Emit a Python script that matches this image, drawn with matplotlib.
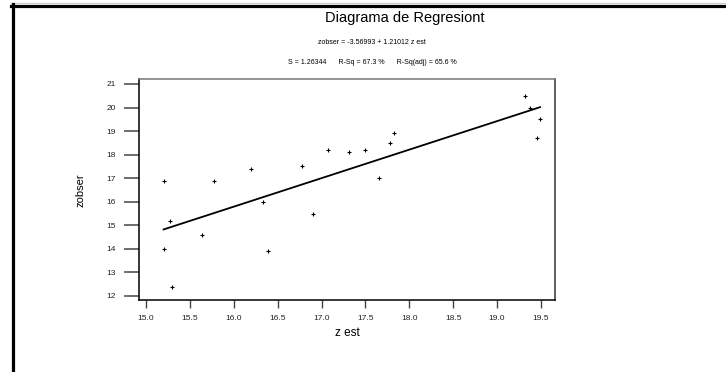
import matplotlib
matplotlib.use("Agg")
import matplotlib.pyplot as plt
from matplotlib.lines import Line2D
import numpy as np

plt.rcParams['font.family'] = ['Liberation Sans', 'DejaVu Sans']

# ── data ─────────────────────────────────────────────────────────────────────
z_est = [15.20, 15.27, 15.20, 15.30, 15.64, 15.77, 16.20, 16.33, 16.39, 16.78, 16.90,
         17.07, 17.31, 17.49, 17.65, 17.78, 17.82, 19.32, 19.38, 19.46, 19.49]
zobser = [16.9, 15.2, 14.0, 12.4, 14.6, 16.9, 17.4, 16.0, 13.9, 17.5, 15.5,
          18.2, 18.1, 18.2, 17.0, 18.5, 18.9, 20.5, 20.0, 18.7, 19.5]
intercept, slope = -3.56993, 1.21012
x_ticks = [15.0, 15.5, 16.0, 16.5, 17.0, 17.5, 18.0, 18.5, 19.0, 19.5]
y_ticks = [12, 13, 14, 15, 16, 17, 18, 19, 20, 21]

W, H = 726, 372
fig = plt.figure(figsize=(W / 100, H / 100), dpi=100)

# axes box in pixels: left 139, right 555, top 79, bottom 300
ax = fig.add_axes([139 / W, 1 - 300 / H, (555 - 139) / W, (300 - 79) / H])

xs = np.sort(np.array(z_est))
ax.plot(xs, intercept + slope * xs, color='black', lw=1.3)
ax.plot(z_est, zobser, linestyle='none', marker='+', ms=2.2, mew=0.8, color='black')

ax.set_xlim(14.92, 19.66)
ax.set_ylim(11.83, 21.21)
ax.set_xticks(x_ticks)
ax.set_xticklabels([f"{v:.1f}" for v in x_ticks])
ax.set_yticks(y_ticks)
ax.tick_params(axis='x', direction='out', length=5.5, width=1, colors='#444444',
               labelsize=6, labelcolor='#222222', pad=5)
ax.tick_params(axis='y', direction='out', length=10.5, width=1.2, colors='#555555',
               labelsize=6, labelcolor='#222222', pad=6)

ax.spines['left'].set_color('black')
ax.spines['bottom'].set_color('black')
ax.spines['top'].set_color('#777777')
ax.spines['right'].set_color('#333333')
for s in ax.spines.values():
    s.set_linewidth(1.1)

ax.set_xlabel('z est', fontsize=8.5, labelpad=4)

# garbled rotated y label
fig.text(80 / W, 1 - 190 / H, 'zobser', rotation=90, fontsize=8,
         ha='center', va='center', fontstretch='condensed')

# titles
fig.text(405 / W, 1 - 18 / H, 'Diagrama de Regresiont', fontsize=10.5,
         ha='center', va='center')
fig.text(372 / W, 1 - 43 / H, 'zobser = -3.56993 + 1.21012 z est', fontsize=5,
         ha='center', va='center')
fig.text(372 / W, 1 - 62 / H, 'S = 1.26344      R-Sq = 67.3 %      R-Sq(adj) = 65.6 %',
         fontsize=5, ha='center', va='center')

# outer frame lines
fig.add_artist(Line2D([11 / W, 1], [1 - 2.5 / H, 1 - 2.5 / H], color='#cccccc', lw=1,
                      transform=fig.transFigure))
fig.add_artist(Line2D([11 / W, 1], [1 - 5.5 / H, 1 - 5.5 / H], color='black', lw=2.3,
                      transform=fig.transFigure))
fig.add_artist(Line2D([12.5 / W, 12.5 / W], [0, 1 - 4 / H], color='black', lw=2.3,
                      transform=fig.transFigure))

fig.savefig('out.png', dpi=100)
